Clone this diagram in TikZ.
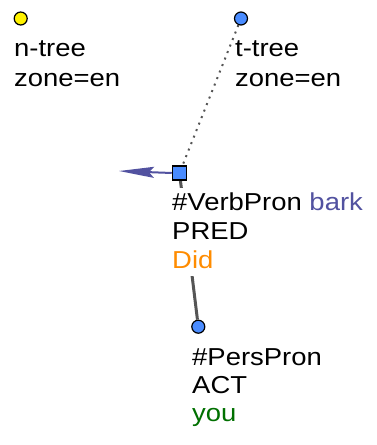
\documentclass[tikz,border=0pt]{standalone}
\usepackage{fontspec}
\setmainfont{Liberation Sans}[FakeStretch=1.12]
\usetikzlibrary{arrows.meta}
\definecolor{nodeblue}{HTML}{4A8CFF}
\definecolor{barkcol}{HTML}{5252A0}
\definecolor{didcol}{HTML}{FF8C00}
\definecolor{youcol}{HTML}{007000}
\definecolor{edgegray}{HTML}{555555}
\tikzset{
  lbl/.style={anchor=base west, inner xsep=0pt, inner ysep=0pt, text height=22pt, text depth=7.5pt, fill=white, font=\fontsize{24.5}{29}\selectfont},
  dotnode/.style={circle, draw=black, line width=1.2pt, minimum size=13pt, inner sep=0pt},
  sqnode/.style={rectangle, draw=black, line width=1.5pt, fill=nodeblue, minimum size=14pt, inner sep=0pt},
  treeedge/.style={draw=edgegray, line width=3pt},
  linkedge/.style={draw=edgegray, line width=2pt, dash pattern=on 2pt off 5pt},
  coref/.style={draw=barkcol, line width=2pt, -{Stealth[length=35pt,width=11pt,inset=5pt]}}
}
\begin{document}
\begin{tikzpicture}[x=1pt,y=-1pt]
\useasboundingbox (0,0) rectangle (376,445);
% nodes
\node[dotnode, fill=yellow] (ntree) at (20.7,18.5) {};
\node[dotnode, fill=nodeblue] (ttree) at (241,18.5) {};
\node[sqnode] (verb) at (179.5,173) {};
\node[dotnode, fill=nodeblue] (pers) at (198.3,326.7) {};
\coordinate (arrtip) at (119,171);
% edges
\draw[linkedge] (ttree) -- (verb);
\draw[treeedge] (verb.center) -- (pers);
\node[sqnode] at (verb.center) {};
\draw[coref] (verb.west) -- (arrtip);
% labels
\node[lbl] (l1) at (14,56) {n-tree};
\node[lbl] (l2) at (14,86) {zone=en};
\node[lbl] (l3) at (235,56) {t-tree};
\node[lbl] (l4) at (235,86) {zone=en};
\node[lbl] (l5) at (172,210) {\#VerbPron \textcolor{barkcol}{bark}};
\node[lbl] (l6) at (172,239) {PRED};
\node[lbl] (l7) at (172,268) {\textcolor{didcol}{Did}};
\node[lbl] (l8) at (192,365) {\#PersPron};
\node[lbl] (l9) at (192,393.5) {ACT};
\node[lbl] (l10) at (192,421.5) {\textcolor{youcol}{you}};
\end{tikzpicture}
\end{document}
